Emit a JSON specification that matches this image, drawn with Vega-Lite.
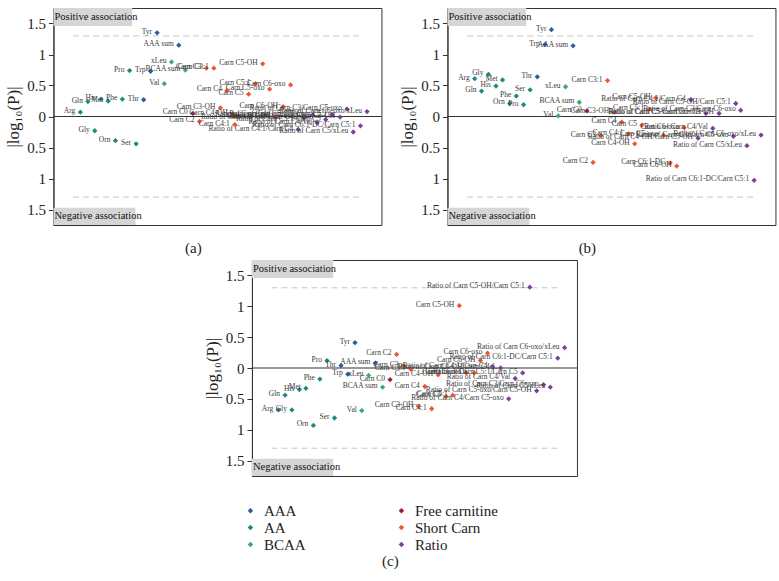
{
"$schema": "https://vega.github.io/schema/vega-lite/v6.json",
"padding": {"left": 4, "top": 7, "right": 5, "bottom": 5},
"config": {
  "view": {"stroke": "#333", "strokeWidth": 1},
  "font": "Liberation Serif",
  "axis": {"labelFont": "Liberation Serif", "labelFontSize": 15, "labelColor": "#222", "titleFont": "Liberation Serif", "titleFontSize": 17, "titleFontWeight": "normal", "titleColor": "#222", "tickColor": "#333", "domainColor": "#333", "grid": false, "tickSize": 5, "labelPadding": 3, "titlePadding": 4, "labelOverlap": false, "labelFlush": false, "labelBound": false},
  "legend": {"labelFont": "Liberation Serif", "labelFontSize": 15, "labelColor": "#222", "padding": 0},
  "title": {"font": "Liberation Serif", "fontSize": 15, "fontWeight": "normal", "color": "#222"}
},
"datasets": {
"pts": [
{"p":"a","m":"Arg","g":"AA","x":8.2,"y":0.07},
{"p":"a","m":"Gln","g":"AA","x":10.5,"y":0.24},
{"p":"a","m":"Gly","g":"AA","x":12.6,"y":-0.23},
{"p":"a","m":"His","g":"AA","x":14.5,"y":0.28},
{"p":"a","m":"Met","g":"AA","x":16.7,"y":0.25},
{"p":"a","m":"Orn","g":"AA","x":18.9,"y":-0.39},
{"p":"a","m":"Phe","g":"AA","x":21.0,"y":0.28},
{"p":"a","m":"Pro","g":"AA","x":23.2,"y":0.74},
{"p":"a","m":"Ser","g":"AA","x":25.2,"y":-0.44},
{"p":"a","m":"Thr","g":"AAA","x":27.5,"y":0.27},
{"p":"a","m":"Trp","g":"AAA","x":29.6,"y":0.73},
{"p":"a","m":"Tyr","g":"AAA","x":31.6,"y":1.35},
{"p":"a","m":"AAA sum","g":"AAA","x":38.2,"y":1.15},
{"p":"a","m":"Val","g":"BCAA","x":33.8,"y":0.53},
{"p":"a","m":"xLeu","g":"BCAA","x":36.0,"y":0.88},
{"p":"a","m":"BCAA sum","g":"BCAA","x":40.2,"y":0.75},
{"p":"a","m":"Carn C0","g":"Free carnitine","x":42.5,"y":0.05},
{"p":"a","m":"Carn C2","g":"Short Carn","x":44.5,"y":-0.08},
{"p":"a","m":"Carn C3","g":"Short Carn","x":46.6,"y":0.78},
{"p":"a","m":"Carn C3:1","g":"Short Carn","x":48.9,"y":0.78},
{"p":"a","m":"Carn C3-OH","g":"Short Carn","x":50.9,"y":0.14},
{"p":"a","m":"Carn C4","g":"Short Carn","x":52.9,"y":0.42},
{"p":"a","m":"Carn C4-OH","g":"Short Carn","x":54.7,"y":0.04},
{"p":"a","m":"Carn C4:1","g":"Short Carn","x":55.3,"y":-0.13},
{"p":"a","m":"Carn C5","g":"Short Carn","x":59.5,"y":0.36},
{"p":"a","m":"Carn C5:1","g":"Short Carn","x":61.6,"y":0.53},
{"p":"a","m":"Carn C5-OH","g":"Short Carn","x":63.8,"y":0.85},
{"p":"a","m":"Carn C5-oxo","g":"Short Carn","x":65.9,"y":0.44},
{"p":"a","m":"Carn C6:1-DC","g":"Short Carn","x":67.7,"y":-0.01},
{"p":"a","m":"Carn C6-OH","g":"Short Carn","x":70.0,"y":0.16},
{"p":"a","m":"Carn C6-oxo","g":"Short Carn","x":72.3,"y":0.51},
{"p":"a","m":"Ratio of Carn C4:1/Carn C4","g":"Ratio","x":74.6,"y":-0.21},
{"p":"a","m":"Ratio of Carn C4-OH/Carn C4:1","g":"Ratio","x":76.4,"y":-0.02},
{"p":"a","m":"Ratio of Carn C4/Carn C5-oxo","g":"Ratio","x":79.0,"y":0.02},
{"p":"a","m":"Ratio of Carn C4/Val","g":"Ratio","x":80.4,"y":-0.10},
{"p":"a","m":"Ratio of Carn C5:1/Carn C5","g":"Ratio","x":83.0,"y":-0.05},
{"p":"a","m":"Ratio of Carn C5-OH/Carn C5:1","g":"Ratio","x":85.0,"y":0.03},
{"p":"a","m":"Ratio of Carn C5-oxo/Carn C5-OH","g":"Ratio","x":87.4,"y":-0.01},
{"p":"a","m":"Ratio of Carn C3/Carn C5-oxo","g":"Ratio","x":89.5,"y":0.12},
{"p":"a","m":"Ratio of Carn C5/xLeu","g":"Ratio","x":91.4,"y":-0.25},
{"p":"a","m":"Ratio of Carn C6:1-DC/Carn C5:1","g":"Ratio","x":93.6,"y":-0.15},
{"p":"a","m":"Ratio of Carn C6-oxo/xLeu","g":"Ratio","x":95.6,"y":0.08},

{"p":"b","m":"Arg","g":"AA","x":8.3,"y":0.61},
{"p":"b","m":"Gln","g":"AA","x":10.4,"y":0.41},
{"p":"b","m":"Gly","g":"AA","x":12.5,"y":0.68},
{"p":"b","m":"His","g":"AA","x":14.8,"y":0.49},
{"p":"b","m":"Met","g":"AA","x":16.8,"y":0.59},
{"p":"b","m":"Orn","g":"AA","x":19.0,"y":0.21},
{"p":"b","m":"Phe","g":"AA","x":21.0,"y":0.33},
{"p":"b","m":"Pro","g":"AA","x":23.2,"y":0.19},
{"p":"b","m":"Ser","g":"AA","x":25.2,"y":0.43},
{"p":"b","m":"Thr","g":"AAA","x":27.4,"y":0.64},
{"p":"b","m":"Trp","g":"AAA","x":29.7,"y":1.16},
{"p":"b","m":"Tyr","g":"AAA","x":31.7,"y":1.40},
{"p":"b","m":"AAA sum","g":"AAA","x":38.3,"y":1.14},
{"p":"b","m":"Val","g":"BCAA","x":33.8,"y":0.01},
{"p":"b","m":"xLeu","g":"BCAA","x":36.0,"y":0.48},
{"p":"b","m":"BCAA sum","g":"BCAA","x":40.2,"y":0.23},
{"p":"b","m":"Carn C0","g":"Free carnitine","x":42.5,"y":0.09},
{"p":"b","m":"Carn C2","g":"Short Carn","x":44.4,"y":-0.74},
{"p":"b","m":"Carn C3","g":"Short Carn","x":46.8,"y":-0.31},
{"p":"b","m":"Carn C3:1","g":"Short Carn","x":48.8,"y":0.58},
{"p":"b","m":"Carn C3-OH","g":"Short Carn","x":50.8,"y":0.07},
{"p":"b","m":"Carn C4","g":"Short Carn","x":53.1,"y":-0.09},
{"p":"b","m":"Carn C4:1","g":"Short Carn","x":55.2,"y":-0.28},
{"p":"b","m":"Carn C4-OH","g":"Short Carn","x":57.1,"y":-0.44},
{"p":"b","m":"Carn C5","g":"Short Carn","x":59.3,"y":-0.14},
{"p":"b","m":"Carn C5:1","g":"Short Carn","x":61.5,"y":0.12},
{"p":"b","m":"Carn C5-OH","g":"Short Carn","x":63.5,"y":0.30},
{"p":"b","m":"Carn C5-oxo","g":"Short Carn","x":65.9,"y":-0.30},
{"p":"b","m":"Carn C6:1-DC","g":"Short Carn","x":67.9,"y":-0.75},
{"p":"b","m":"Carn C6-OH","g":"Short Carn","x":69.9,"y":-0.80},
{"p":"b","m":"Carn C6-oxo","g":"Short Carn","x":72.2,"y":-0.18},
{"p":"b","m":"Ratio of Carn C4:1/Carn C4","g":"Ratio","x":74.2,"y":0.27},
{"p":"b","m":"Ratio of Carn C4-OH/Carn C5-OH","g":"Ratio","x":76.4,"y":-0.35},
{"p":"b","m":"Ratio of Carn C5/Carn C6-OH","g":"Ratio","x":78.8,"y":0.05},
{"p":"b","m":"Ratio of Carn C4/Val","g":"Ratio","x":80.9,"y":-0.19},
{"p":"b","m":"Ratio of Carn C5-oxo/Carn C5-OH","g":"Ratio","x":82.8,"y":0.05},
{"p":"b","m":"Ratio of Carn C3/Carn C5-oxo","g":"Ratio","x":87.2,"y":-0.32},
{"p":"b","m":"Ratio of Carn C5-OH/Carn C5:1","g":"Ratio","x":87.9,"y":0.21},
{"p":"b","m":"Ratio of Carn C3/Carn C6-oxo","g":"Ratio","x":89.4,"y":0.10},
{"p":"b","m":"Ratio of Carn C5/xLeu","g":"Ratio","x":91.3,"y":-0.47},
{"p":"b","m":"Ratio of Carn C6:1-DC/Carn C5:1","g":"Ratio","x":93.5,"y":-1.03},
{"p":"b","m":"Ratio of Carn C6-oxo/xLeu","g":"Ratio","x":95.6,"y":-0.30},

{"p":"c","m":"Arg","g":"AA","x":8.1,"y":-0.68},
{"p":"c","m":"Gln","g":"AA","x":10.2,"y":-0.44},
{"p":"c","m":"Gly","g":"AA","x":12.3,"y":-0.68},
{"p":"c","m":"His","g":"AA","x":14.6,"y":-0.35},
{"p":"c","m":"Met","g":"AA","x":16.6,"y":-0.33},
{"p":"c","m":"Orn","g":"AA","x":18.9,"y":-0.93},
{"p":"c","m":"Phe","g":"AA","x":20.9,"y":-0.18},
{"p":"c","m":"Pro","g":"AA","x":23.1,"y":0.12},
{"p":"c","m":"Ser","g":"AA","x":25.4,"y":-0.81},
{"p":"c","m":"Thr","g":"AAA","x":27.4,"y":0.04},
{"p":"c","m":"Trp","g":"AAA","x":29.5,"y":-0.10},
{"p":"c","m":"Tyr","g":"AAA","x":31.7,"y":0.41},
{"p":"c","m":"AAA sum","g":"AAA","x":38.0,"y":0.08},
{"p":"c","m":"Val","g":"BCAA","x":33.8,"y":-0.69},
{"p":"c","m":"xLeu","g":"BCAA","x":35.9,"y":-0.12},
{"p":"c","m":"BCAA sum","g":"BCAA","x":40.2,"y":-0.31},
{"p":"c","m":"Carn C0","g":"Free carnitine","x":42.5,"y":-0.19},
{"p":"c","m":"Carn C2","g":"Short Carn","x":44.5,"y":0.22},
{"p":"c","m":"Carn C3","g":"Short Carn","x":46.6,"y":0.04},
{"p":"c","m":"Carn C3:1","g":"Short Carn","x":48.9,"y":-0.02},
{"p":"c","m":"Carn C3-OH","g":"Short Carn","x":51.2,"y":-0.62},
{"p":"c","m":"Carn C4","g":"Short Carn","x":53.2,"y":-0.30},
{"p":"c","m":"Carn C4:1","g":"Short Carn","x":55.3,"y":-0.66},
{"p":"c","m":"Carn C4-OH","g":"Short Carn","x":57.3,"y":-0.11},
{"p":"c","m":"Carn C5","g":"Short Carn","x":59.7,"y":-0.46},
{"p":"c","m":"Carn C5:1","g":"Short Carn","x":61.8,"y":-0.44},
{"p":"c","m":"Carn C5-OH","g":"Short Carn","x":63.8,"y":1.01},
{"p":"c","m":"Carn C5-oxo","g":"Short Carn","x":65.9,"y":-0.08},
{"p":"c","m":"Carn C6:1-DC","g":"Short Carn","x":68.4,"y":-0.08},
{"p":"c","m":"Carn C6-OH","g":"Short Carn","x":70.3,"y":0.12},
{"p":"c","m":"Carn C6-oxo","g":"Short Carn","x":72.5,"y":0.24},
{"p":"c","m":"Ratio of Carn C4:1/Carn C4","g":"Ratio","x":74.0,"y":0.02},
{"p":"c","m":"Ratio of Carn C4-OH/Carn C4:1","g":"Ratio","x":76.5,"y":0.0},
{"p":"c","m":"Ratio of Carn C4/Carn C5-oxo","g":"Ratio","x":79.0,"y":-0.50},
{"p":"c","m":"Ratio of Carn C4/Val","g":"Ratio","x":81.0,"y":-0.17},
{"p":"c","m":"Ratio of Carn C5:1/Carn C5","g":"Ratio","x":83.3,"y":-0.08},
{"p":"c","m":"Ratio of Carn C5-OH/Carn C5:1","g":"Ratio","x":85.5,"y":1.31},
{"p":"c","m":"Ratio of Carn C5-oxo/Carn C5-OH","g":"Ratio","x":87.6,"y":-0.37},
{"p":"c","m":"Ratio of Carn C3/Carn C6-oxo","g":"Ratio","x":89.7,"y":-0.27},
{"p":"c","m":"Ratio of Carn C5/xLeu","g":"Ratio","x":91.8,"y":-0.31},
{"p":"c","m":"Ratio of Carn C6:1-DC/Carn C5:1","g":"Ratio","x":94.1,"y":0.16},
{"p":"c","m":"Ratio of Carn C6-oxo/xLeu","g":"Ratio","x":96.2,"y":0.33}
]
},
"vconcat": [
 {
  "hconcat": [
   {
    "width": 328, "height": 217,
    "title": {"text": "(a)", "orient": "bottom", "frame": "bounds", "anchor": "middle", "offset": 16},
    "layer": [
     {"data": {"values": [{}]}, "mark": {"type": "rect", "color": "#d6d6d6"},
      "encoding": {"x": {"datum": 0, "type": "quantitative", "scale": {"domain": [0, 100], "nice": false, "zero": false}, "axis": null},
                   "x2": {"datum": 24},
                   "y": {"datum": 1.75, "type": "quantitative", "scale": {"domain": [-1.75, 1.75], "nice": false, "zero": false},
                         "axis": {"title": "|log₁₀(P)|", "values": [-1.5, -1, -0.5, 0, 0.5, 1, 1.5], "tickCount": 20, "labelOverlap": false, "labelExpr": "toString(abs(datum.value))"}},
                   "y2": {"datum": 1.46}}},
     {"data": {"values": [{}]}, "mark": {"type": "rect", "color": "#d6d6d6"},
      "encoding": {"x": {"datum": 0, "type": "quantitative"}, "x2": {"datum": 25}, "y": {"datum": -1.47, "type": "quantitative"}, "y2": {"datum": -1.75}}},
     {"data": {"values": [{}]}, "mark": {"type": "text", "text": "Positive association", "align": "left", "baseline": "middle", "fontSize": 10.5, "dx": 1, "color": "#111"},
      "encoding": {"x": {"datum": 0, "type": "quantitative"}, "y": {"datum": 1.6, "type": "quantitative"}}},
     {"data": {"values": [{}]}, "mark": {"type": "text", "text": "Negative association", "align": "left", "baseline": "middle", "fontSize": 10.5, "dx": 1, "color": "#111"},
      "encoding": {"x": {"datum": 0, "type": "quantitative"}, "y": {"datum": -1.61, "type": "quantitative"}}},
     {"data": {"values": [{}]}, "mark": {"type": "rule", "color": "#c8c8c8", "strokeDash": [6, 4], "strokeWidth": 1},
      "encoding": {"x": {"datum": 6, "type": "quantitative"}, "x2": {"datum": 94}, "y": {"datum": 1.3, "type": "quantitative"}}},
     {"data": {"values": [{}]}, "mark": {"type": "rule", "color": "#c8c8c8", "strokeDash": [6, 4], "strokeWidth": 1},
      "encoding": {"x": {"datum": 6, "type": "quantitative"}, "x2": {"datum": 94}, "y": {"datum": -1.3, "type": "quantitative"}}},
     {"data": {"values": [{}]}, "mark": {"type": "rule", "color": "#333", "strokeWidth": 1.2},
      "encoding": {"y": {"datum": 0, "type": "quantitative"}}},
     {"data": {"name": "pts"}, "transform": [{"filter": "datum.p == 'a'"}],
      "mark": {"type": "point", "shape": "diamond", "filled": true, "size": 28, "opacity": 1},
      "encoding": {"x": {"field": "x", "type": "quantitative"}, "y": {"field": "y", "type": "quantitative"},
                   "color": {"field": "g", "type": "nominal", "legend": null,
                             "scale": {"domain": ["AAA", "Free carnitine", "AA", "Short Carn", "BCAA", "Ratio"], "range": ["#2f5aa0", "#9e1b3d", "#1b8a80", "#f1572d", "#3daa6b", "#7d3f9a"]}}}},
     {"data": {"name": "pts"}, "transform": [{"filter": "datum.p == 'a'"}],
      "mark": {"type": "text", "align": "right", "baseline": "middle", "dx": -5, "dy": -1, "fontSize": 7.5, "color": "#3a3a3a"},
      "encoding": {"x": {"field": "x", "type": "quantitative"}, "y": {"field": "y", "type": "quantitative"}, "text": {"field": "m"}}}
    ]
   },
   {
    "width": 328, "height": 217,
    "title": {"text": "(b)", "orient": "bottom", "frame": "bounds", "anchor": "middle", "offset": 16},
    "layer": [
     {"data": {"values": [{}]}, "mark": {"type": "rect", "color": "#d6d6d6"},
      "encoding": {"x": {"datum": 0, "type": "quantitative", "scale": {"domain": [0, 100], "nice": false, "zero": false}, "axis": null},
                   "x2": {"datum": 24},
                   "y": {"datum": 1.75, "type": "quantitative", "scale": {"domain": [-1.75, 1.75], "nice": false, "zero": false},
                         "axis": {"title": "|log₁₀(P)|", "values": [-1.5, -1, -0.5, 0, 0.5, 1, 1.5], "tickCount": 20, "labelOverlap": false, "labelExpr": "toString(abs(datum.value))"}},
                   "y2": {"datum": 1.46}}},
     {"data": {"values": [{}]}, "mark": {"type": "rect", "color": "#d6d6d6"},
      "encoding": {"x": {"datum": 0, "type": "quantitative"}, "x2": {"datum": 25}, "y": {"datum": -1.47, "type": "quantitative"}, "y2": {"datum": -1.75}}},
     {"data": {"values": [{}]}, "mark": {"type": "text", "text": "Positive association", "align": "left", "baseline": "middle", "fontSize": 10.5, "dx": 1, "color": "#111"},
      "encoding": {"x": {"datum": 0, "type": "quantitative"}, "y": {"datum": 1.6, "type": "quantitative"}}},
     {"data": {"values": [{}]}, "mark": {"type": "text", "text": "Negative association", "align": "left", "baseline": "middle", "fontSize": 10.5, "dx": 1, "color": "#111"},
      "encoding": {"x": {"datum": 0, "type": "quantitative"}, "y": {"datum": -1.61, "type": "quantitative"}}},
     {"data": {"values": [{}]}, "mark": {"type": "rule", "color": "#c8c8c8", "strokeDash": [6, 4], "strokeWidth": 1},
      "encoding": {"x": {"datum": 6, "type": "quantitative"}, "x2": {"datum": 94}, "y": {"datum": 1.3, "type": "quantitative"}}},
     {"data": {"values": [{}]}, "mark": {"type": "rule", "color": "#c8c8c8", "strokeDash": [6, 4], "strokeWidth": 1},
      "encoding": {"x": {"datum": 6, "type": "quantitative"}, "x2": {"datum": 94}, "y": {"datum": -1.3, "type": "quantitative"}}},
     {"data": {"values": [{}]}, "mark": {"type": "rule", "color": "#333", "strokeWidth": 1.2},
      "encoding": {"y": {"datum": 0, "type": "quantitative"}}},
     {"data": {"name": "pts"}, "transform": [{"filter": "datum.p == 'b'"}],
      "mark": {"type": "point", "shape": "diamond", "filled": true, "size": 28, "opacity": 1},
      "encoding": {"x": {"field": "x", "type": "quantitative"}, "y": {"field": "y", "type": "quantitative"},
                   "color": {"field": "g", "type": "nominal", "legend": null,
                             "scale": {"domain": ["AAA", "Free carnitine", "AA", "Short Carn", "BCAA", "Ratio"], "range": ["#2f5aa0", "#9e1b3d", "#1b8a80", "#f1572d", "#3daa6b", "#7d3f9a"]}}}},
     {"data": {"name": "pts"}, "transform": [{"filter": "datum.p == 'b'"}],
      "mark": {"type": "text", "align": "right", "baseline": "middle", "dx": -5, "dy": -1, "fontSize": 7.5, "color": "#3a3a3a"},
      "encoding": {"x": {"field": "x", "type": "quantitative"}, "y": {"field": "y", "type": "quantitative"}, "text": {"field": "m"}}}
    ]
   }
  ],
  "spacing": 14,
  "resolve": {"scale": {"x": "independent", "y": "independent", "color": "independent"}}
 },
 {
    "width": 325, "height": 216,
    "title": {"text": "(c)", "orient": "bottom", "frame": "bounds", "anchor": "middle", "offset": 1},
    "layer": [
     {"data": {"values": [{}]}, "mark": {"type": "rect", "color": "#d6d6d6"},
      "encoding": {"x": {"datum": 0, "type": "quantitative", "scale": {"domain": [0, 100], "nice": false, "zero": false}, "axis": null},
                   "x2": {"datum": 25},
                   "y": {"datum": 1.75, "type": "quantitative", "scale": {"domain": [-1.75, 1.75], "nice": false, "zero": false},
                         "axis": {"title": "|log₁₀(P)|", "values": [-1.5, -1, -0.5, 0, 0.5, 1, 1.5], "tickCount": 20, "labelOverlap": false, "labelExpr": "toString(abs(datum.value))"}},
                   "y2": {"datum": 1.46}}},
     {"data": {"values": [{}]}, "mark": {"type": "rect", "color": "#d6d6d6"},
      "encoding": {"x": {"datum": 0, "type": "quantitative"}, "x2": {"datum": 25}, "y": {"datum": -1.47, "type": "quantitative"}, "y2": {"datum": -1.75}}},
     {"data": {"values": [{}]}, "mark": {"type": "text", "text": "Positive association", "align": "left", "baseline": "middle", "fontSize": 10.5, "dx": 1, "color": "#111"},
      "encoding": {"x": {"datum": 0, "type": "quantitative"}, "y": {"datum": 1.6, "type": "quantitative"}}},
     {"data": {"values": [{}]}, "mark": {"type": "text", "text": "Negative association", "align": "left", "baseline": "middle", "fontSize": 10.5, "dx": 1, "color": "#111"},
      "encoding": {"x": {"datum": 0, "type": "quantitative"}, "y": {"datum": -1.61, "type": "quantitative"}}},
     {"data": {"values": [{}]}, "mark": {"type": "rule", "color": "#c8c8c8", "strokeDash": [6, 4], "strokeWidth": 1},
      "encoding": {"x": {"datum": 6, "type": "quantitative"}, "x2": {"datum": 94}, "y": {"datum": 1.3, "type": "quantitative"}}},
     {"data": {"values": [{}]}, "mark": {"type": "rule", "color": "#c8c8c8", "strokeDash": [6, 4], "strokeWidth": 1},
      "encoding": {"x": {"datum": 6, "type": "quantitative"}, "x2": {"datum": 94}, "y": {"datum": -1.3, "type": "quantitative"}}},
     {"data": {"values": [{}]}, "mark": {"type": "rule", "color": "#333", "strokeWidth": 1.2},
      "encoding": {"y": {"datum": 0, "type": "quantitative"}}},
     {"data": {"name": "pts"}, "transform": [{"filter": "datum.p == 'c'"}],
      "mark": {"type": "point", "shape": "diamond", "filled": true, "size": 28, "opacity": 1},
      "encoding": {"x": {"field": "x", "type": "quantitative"}, "y": {"field": "y", "type": "quantitative"},
                   "color": {"field": "g", "type": "nominal",
                             "legend": {"orient": "bottom", "columns": 2, "title": null, "symbolType": "diamond", "symbolSize": 30, "columnPadding": 92, "rowPadding": 1, "offset": 27, "symbolOffset": -9, "labelOffset": 6},
                             "scale": {"domain": ["AAA", "Free carnitine", "AA", "Short Carn", "BCAA", "Ratio"], "range": ["#2f5aa0", "#9e1b3d", "#1b8a80", "#f1572d", "#3daa6b", "#7d3f9a"]}}}},
     {"data": {"name": "pts"}, "transform": [{"filter": "datum.p == 'c'"}],
      "mark": {"type": "text", "align": "right", "baseline": "middle", "dx": -5, "dy": -1, "fontSize": 7.5, "color": "#3a3a3a"},
      "encoding": {"x": {"field": "x", "type": "quantitative"}, "y": {"field": "y", "type": "quantitative"}, "text": {"field": "m"}}}
    ]
 }
],
"spacing": 2,
"center": true,
"resolve": {"scale": {"x": "independent", "y": "independent", "color": "independent"}}
}
